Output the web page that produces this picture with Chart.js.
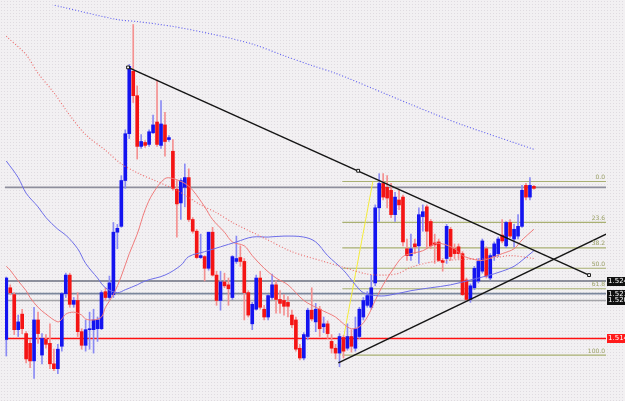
<!DOCTYPE html>
<html>
<head>
<meta charset="utf-8">
<script src="https://cdn.jsdelivr.net/npm/chart.js@4.4.1/dist/chart.umd.min.js"></script>
<style>
  html, body { margin: 0; padding: 0; }
  body {
    width: 625px; height: 401px; overflow: hidden;
    background-color: #f2f0f2;
    background-image: radial-gradient(circle, #dfdbe0 0.7px, transparent 0.9px);
    background-size: 3px 3px;
  }
  canvas { display: block; }
</style>
</head>
<body>
<canvas id="chart" width="625" height="401"></canvas>
<script>
'use strict';

// ── Data (price in screen points, larger = lower) ──────────────────────────
const opens = [
  343,290,297,333,317,337,347,365,323,359, 343,347,368,373,350,296,277,307,303,335,
  349,333,333,332,332,294,300,297,233,227, 180,132,68,93,145,141,143,131,120,144,
  123,138,150,189,203,187,177,220,232,259, 258,270,233,277,303,284,287,300,263,259,
  263,295,327,312,280,312,320,300,287,302, 303,305,318,323,352,362,340,313,325,312,
  330,327,345,352,357,341,352,340,352,340, 320,308,310,285,208,183,187,190,215,200,
  197,250,257,245,247,217,207,222,244,243, 262,260,230,250,248,255,282,302,290,283,
  273,250,280,258,255,236,247,223,240,237, 227,185,197,186
];
const highs = [
  279,287,295,318,312,335,343,310,315,337, 338,327,353,348,295,275,275,300,295,332,
  323,315,312,320,293,290,278,223,225,175, 128,61,20,83,133,139,128,113,77,98,
  110,134,138,180,178,163,168,218,230,235, 257,233,228,273,273,275,280,257,237,247,
  260,293,305,277,273,308,297,276,283,293, 297,299,313,320,348,336,311,290,306,309,
  320,324,338,348,337,339,327,333,320,310, 300,294,277,205,173,173,175,183,192,190,
  195,240,235,240,208,205,205,220,235,240, 260,225,228,245,245,253,280,286,268,260,
  240,248,255,243,238,220,222,220,225,215, 185,183,177,185
];
const lows = [
  360,297,338,340,337,367,372,383,347,368, 352,373,375,378,355,300,310,310,340,353,
  355,353,357,345,333,303,302,300,250,228, 188,137,100,158,147,146,145,132,145,147,
  155,140,190,238,220,207,222,234,260,260, 283,272,278,308,313,290,308,302,265,268,
  323,320,333,313,312,323,323,302,316,316, 318,320,331,355,364,364,343,324,335,340,
  336,342,357,363,371,362,354,356,355,342, 323,310,312,288,222,200,208,218,222,210,
  247,262,262,255,265,232,250,250,265,263, 273,265,262,260,260,298,303,305,292,285,
  275,280,282,262,258,244,249,239,248,240, 228,200,200,189
];
const closes = [
  280,295,333,325,332,363,365,323,337,342, 348,368,373,353,296,277,307,303,335,349,
  333,332,323,323,295,300,285,233,229,180, 132,63,93,145,140,144,130,123,143,122,
  140,136,188,204,180,177,220,232,259,257, 270,233,277,303,284,288,291,258,260,263,
  295,318,307,280,310,320,298,287,302,306, 309,309,328,353,362,338,313,322,312,332,
  327,337,352,357,340,355,340,350,332,312, 303,298,290,208,183,197,198,215,197,205,
  243,257,250,248,215,212,232,247,246,262, 264,227,258,255,255,297,302,288,270,263,
  242,278,257,245,240,242,223,237,230,227, 190,197,185,188
];

// moving averages: bar index -> level
const fastMaAt = [0,1,3,5,6,8,10,13,14,15,17,19,20,22,24,25,27,29,31,33,35,37,40,42,45,47,50,52,55,57,60,62,65,68,71,75,79,83,85,87,89,91,93,95,98,100,102,105,108,110,113,115,118,120,123,125,128,130,133];
const fastMa   = [268,272,283,293,300,310,317,325,322,317,315,318,322,323,320,310,297,278,255,235,210,193,178,178,183,190,207,220,233,243,247,257,270,280,287,303,312,320,327,332,330,320,303,287,268,258,255,252,245,245,250,257,261,262,258,255,250,241,230];
const midMaAt  = [0,3,5,8,10,13,15,18,20,23,25,28,30,33,35,40,44,46,50,54,58,62,66,70,75,78,81,85,88,90,93,96,102,107,112,117,121,125,128,130,133];
const midMa    = [160,177,193,207,218,230,236,250,265,280,290,295,292,287,283,277,267,258,253,248,243,238,238,237,238,243,257,272,287,295,298,298,293,290,287,282,278,273,268,262,252];
const slowRedAt = [0,5,8,12,16,20,25,29,33,38,43,49,53,57,65,72,80,85,91,96,99,102,108,115,122,127,133];
const slowRed   = [32,51,70,90,113,133,149,163,172,181,190,205,213,223,239,253,263,269,276,277,275,269,263,261,260,257,260];
const slowBlueAt = [10,14,28,33,42,52,62,70,77,83,92,102,108,115,125,133];
const slowBlue   = [-2,2,15,17,22,30,40,52,62,70,85,102,112,123,137,148];

// horizontal levels
const grayLevels   = [187, 283, 296, 303];
const grayColors   = ['#8e8e9c', '#6c7080', '#7a869c', '#a4a4a8'];
const redLevel     = 342;
const levelLabels  = ['1.5245', '1.5219', '1.5208'];
const redLabel     = '1.5147';

// fibonacci retracement
const fibNames  = ['0.0', '23.6', '38.2', '50.0', '61.8', '100.0'];
const fibLevels = [181, 223, 249, 270, 291, 359];
const fibFrom   = 84.7;

// trend lines: [bar, level] pairs
const downTrend   = [[30.7, 64], [146.9, 277]];
const downMarkers = [[30.7, 64], [88.7, 170], [146.9, 277]];
const upTrend     = [[83.7, 367], [151.2, 235]];
const fibAnchor   = [[84.2, 359], [92.4, 181]];

const X_MIN = -0.325;
const X_MAX = 151.175;

// ── Helpers ────────────────────────────────────────────────────────────────
const isUp = i => closes[i] < opens[i];
const pts = (xs, ys) => xs.map((x, k) => ({ x, y: ys[k] }));
const pairPts = arr => arr.map(([x, y]) => ({ x, y }));

function lineSet(data, color, width, extra) {
  return Object.assign({
    type: 'line',
    data,
    borderColor: color,
    borderWidth: width,
    pointRadius: 0,
    fill: false,
    tension: 0,
  }, extra || {});
}

const datasets = [];

// horizontal levels (behind everything)
grayLevels.forEach((lv, k) => {
  datasets.push(lineSet([{ x: X_MIN, y: lv }, { x: X_MAX, y: lv }], grayColors[k], 1.6, { order: 6 }));
});
datasets.push(lineSet([{ x: X_MIN, y: redLevel }, { x: X_MAX, y: redLevel }], '#ff1010', 1.4, { order: 6 }));
fibLevels.forEach(lv => {
  datasets.push(lineSet([{ x: fibFrom, y: lv }, { x: X_MAX, y: lv }], '#a9b072', 1.2, { order: 6 }));
});
datasets.push(lineSet(pairPts(fibAnchor), '#f4ec3a', 1, { order: 5 }));

// candles
datasets.push({
  type: 'bar',
  data: opens.map((o, i) => ({ x: i, y: [lows[i], highs[i]] })),
  backgroundColor: opens.map((o, i) => isUp(i) ? '#8a8af4' : '#f49090'),
  barThickness: 1,
  grouped: false,
  order: 4,
});
datasets.push({
  type: 'bar',
  data: opens.map((o, i) => ({ x: i, y: [o, closes[i]] })),
  backgroundColor: opens.map((o, i) => isUp(i) ? '#1414f0' : '#f41414'),
  barThickness: 3,
  minBarLength: 1,
  grouped: false,
  order: 3,
});

// moving averages
datasets.push(lineSet(pts(slowBlueAt, slowBlue), '#5c5cf0', 1.1, { borderDash: [1, 2], tension: 0.3, order: 2 }));
datasets.push(lineSet(pts(slowRedAt, slowRed), '#ec6a6a', 1.1, { borderDash: [1, 2], tension: 0.3, order: 2 }));
datasets.push(lineSet(pts(midMaAt, midMa), '#6d6de8', 1, { tension: 0.35, order: 2 }));
datasets.push(lineSet(pts(fastMaAt, fastMa), '#ef7a7a', 1, { tension: 0.35, order: 2 }));

// trend lines
datasets.push(lineSet(pairPts(downTrend), '#151515', 1.5, { order: 1 }));
datasets.push(lineSet(pairPts(upTrend), '#151515', 1.5, { order: 1 }));
datasets.push({
  type: 'line',
  data: pairPts(downMarkers),
  showLine: false,
  pointStyle: 'rect',
  pointRadius: 2,
  pointBackgroundColor: '#ffffff',
  pointBorderColor: '#151515',
  pointBorderWidth: 1,
  order: 0,
});

// ── Labels plugin ──────────────────────────────────────────────────────────
const labelsPlugin = {
  id: 'levelLabels',
  afterDatasetsDraw(chart) {
    const { ctx, chartArea, scales: { y } } = chart;
    ctx.save();
    ctx.font = "6px 'DejaVu Sans', sans-serif";
    ctx.textAlign = 'right';
    ctx.textBaseline = 'bottom';
    ctx.fillStyle = '#9aa064';
    fibLevels.forEach((lv, k) => {
      ctx.fillText(fibNames[k], chartArea.right - 1, y.getPixelForValue(lv) - 1);
    });

    const boxX = chartArea.right + 1;
    ctx.textAlign = 'left';
    ctx.textBaseline = 'middle';
    ctx.font = "7px 'DejaVu Sans', sans-serif";
    const drawBox = (lv, text, bg) => {
      const py = Math.round(y.getPixelForValue(lv));
      ctx.fillStyle = bg;
      ctx.fillRect(boxX, py - 4, chart.width - boxX, 9);
      ctx.fillStyle = '#ffffff';
      ctx.fillText(text, boxX + 1, py + 0.5);
    };
    grayLevels.slice(1).forEach((lv, k) => drawBox(lv, levelLabels[k], '#111111'));
    drawBox(redLevel, redLabel, '#ff1a1a');
    ctx.restore();
  },
};

new Chart(document.getElementById('chart'), {
  type: 'bar',
  data: { datasets },
  plugins: [labelsPlugin],
  options: {
    responsive: false,
    maintainAspectRatio: false,
    animation: false,
    layout: { padding: { left: 0, right: 19, top: 0, bottom: 0 } },
    plugins: { legend: { display: false }, tooltip: { enabled: false } },
    scales: {
      x: { type: 'linear', min: X_MIN, max: X_MAX, display: false, offset: false },
      y: { type: 'linear', min: 0, max: 401, reverse: true, display: false },
    },
  },
});
</script>
</body>
</html>
